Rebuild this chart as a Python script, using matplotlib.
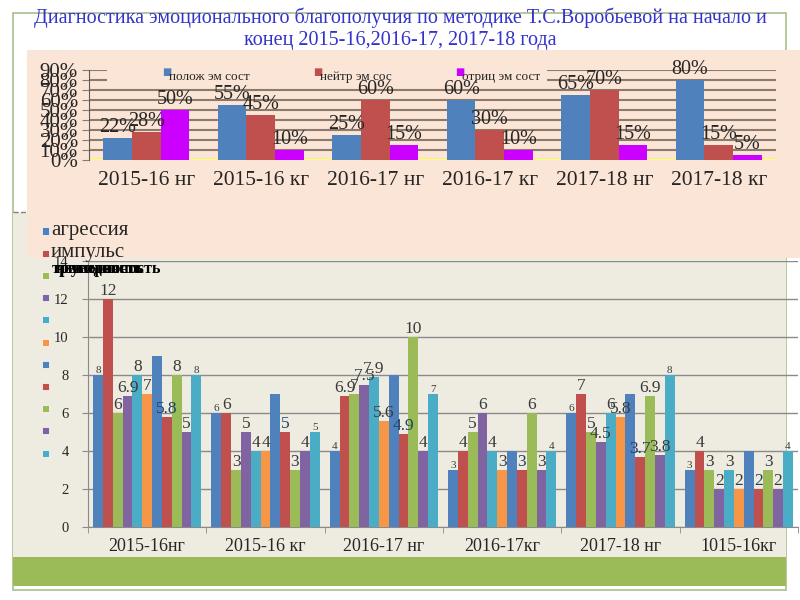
import numpy as np
import matplotlib.pyplot as plt
from matplotlib.patches import Rectangle

# ---- верхняя диаграмма (проценты) ----
top_groups = ['2015-16 нг', '2015-16 кг', '2016-17 нг', '2016-17 кг', '2017-18 нг', '2017-18 кг']
top_names = ['полож эм сост', 'нейтр эм сос', 'отриц эм сост']
polozh = [22, 55, 25, 60, 65, 80]
neitr = [28, 45, 60, 30, 70, 15]
otric = [50, 10, 15, 10, 15, 5]
top_yticks = [0, 10, 20, 30, 40, 50, 60, 70, 80, 90]

# ---- нижняя диаграмма (баллы) ----
bottom_groups = ['2015-16нг', '2015-16 кг', '2016-17 нг', '2016-17кг', '2017-18 нг', '1015-16кг']
agressiya = [8, 6, 4, 3, 6, 3]
impuls = [12, 6, 6.9, 4, 7, 4]
ryad3 = [6, 3, 7, 5, 5, 3]
ryad4 = [6.9, 5, 7.5, 6, 4.5, 2]
ryad5 = [8, 4, 7.9, 4, 6, 3]
ryad6 = [7, 4, 5.6, 3, 5.8, 2]
ryad7 = [9, 7, 8, 4, 7, 4]
ryad8 = [5.8, 5, 4.9, 3, 3.7, 2]
ryad9 = [8, 3, 10, 6, 6.9, 3]
ryad10 = [5, 4, 4, 3, 3.8, 2]
ryad11 = [8, 5, 7, 4, 8, 4]
bottom_names = ['агрессия', 'импульс']
# подписи легенды, наложенные друг на друга в оригинале
overlap_names = ['тревожность', 'неуверенность', 'ригидность']
bottom_yticks = [0, 2, 4, 6, 8, 10, 12, 14]

W, H = 800, 600
def fx(px):
    return px / W
def fy(py):
    return 1 - py / H

plt.rcParams['font.family'] = ['Liberation Serif', 'DejaVu Sans']

fig = plt.figure(figsize=(8, 6), dpi=100)
fig.patch.set_facecolor('white')

# фоновые панели слайда
fig.patches.append(Rectangle((fx(13), fy(590)), fx(773), 577 / H, transform=fig.transFigure,
                             facecolor='white', edgecolor='#A9BF8A', lw=1.2, zorder=0.1))
fig.patches.append(Rectangle((fx(13), fy(557)), fx(773), 344 / H, transform=fig.transFigure,
                             facecolor='#EEECE1', edgecolor='none', zorder=0.2))
fig.patches.append(Rectangle((fx(13), fy(586)), fx(773), 29 / H, transform=fig.transFigure,
                             facecolor='#9BBB59', edgecolor='none', zorder=0.3))
fig.patches.append(Rectangle((fx(27), fy(258)), fx(773), 208 / H, transform=fig.transFigure,
                             facecolor='#FBE5D6', edgecolor='none', zorder=0.4))
fig.lines.append(plt.Line2D([fx(13), fx(27)], [fy(212), fy(212)], transform=fig.transFigure,
                            color='#808080', lw=1, ls='--', zorder=0.5))

fig.text(0.5, fy(18), 'Диагностика эмоционального благополучия по методике Т.С.Воробьевой на начало и',
         ha='center', va='center', fontsize=14.5, color='#3333CC', family='Liberation Serif')
fig.text(0.5, fy(41), 'конец 2015-16,2016-17, 2017-18 года',
         ha='center', va='center', fontsize=14.5, color='#3333CC', family='Liberation Serif')

# ---- верхняя диаграмма ----
ax1 = fig.add_axes([fx(89), fy(160), fx(687), 90 / H])
ax1.set_zorder(2)
ax1.set_facecolor('none')
x = np.arange(len(top_groups))
bw = 0.25
top_colors = ['#4F81BD', '#C0504D', '#CC00FF']
for i, (vals, col) in enumerate(zip([polozh, neitr, otric], top_colors)):
    bars = ax1.bar(x + (i - 1) * bw, vals, bw, color=col, zorder=3)
    for b, v in zip(bars, vals):
        ax1.annotate(f'{v}%', (b.get_x() + b.get_width() / 2, v), xytext=(0, 1),
                     textcoords='offset points', ha='center', va='bottom',
                     fontsize=14.5, color='#262626', zorder=5, annotation_clip=False)
ax1.set_xlim(-0.5, len(top_groups) - 0.5)
ax1.set_ylim(0, 90)
ax1.set_yticks(top_yticks)
ax1.set_yticklabels([f'{t}%' for t in top_yticks], fontsize=15, color='#262626')
ax1.yaxis.grid(True, color='#8C7B6B', lw=1.5)
ax1.set_xticks(x)
ax1.set_xticklabels(top_groups, fontsize=15.5, color='#262626')
ax1.tick_params(axis='x', length=0, pad=8)
ax1.tick_params(axis='y', length=5, color='#8C7B6B', pad=3)
for s in ['top', 'right', 'bottom']:
    ax1.spines[s].set_visible(False)
ax1.spines['left'].set_color('#5A5A5A')
ax1.axhline(0, color='#FFFF66', lw=2.5, zorder=2)
# фон легенды закрывает верхние линии сетки
ax1.axhspan(74, 92, xmin=0.026, xmax=0.667, facecolor='#FBE5D6', edgecolor='none',
            zorder=2.5, clip_on=False)

# легенда верхней диаграммы
for name, col, px, py in zip(top_names, top_colors, [162, 313, 455], [72, 72, 72]):
    fig.text(fx(px), fy(py), '■', fontsize=7, color=col, ha='left', va='center',
             family='DejaVu Sans', zorder=6)
    fig.text(fx(px + 7), fy(py + 5), name, fontsize=9.5, color='#262626', ha='left',
             va='center', zorder=6)

# ---- нижняя диаграмма ----
ax2 = fig.add_axes([fx(88), fy(527), fx(710), 266 / H])
ax2.set_zorder(2)
ax2.set_facecolor('none')
series = [agressiya, impuls, ryad3, ryad4, ryad5, ryad6, ryad7, ryad8, ryad9, ryad10, ryad11]
colors = ['#4F81BD', '#C0504D', '#9BBB59', '#8064A2', '#4BACC6', '#F79646',
          '#4F81BD', '#C0504D', '#9BBB59', '#8064A2', '#4BACC6']
xb = np.arange(len(bottom_groups))
n = len(series)
w = 0.083
for i, (vals, col) in enumerate(zip(series, colors)):
    pos = xb + (i - (n - 1) / 2) * w
    bars = ax2.bar(pos, vals, w, color=col, zorder=3)
    if i == 6:
        continue
    fs = 8 if i in (0, 10) else 12.5
    tc = '#1F3E66' if i in (7,) else '#3A3A3A'
    for b, v in zip(bars, vals):
        ax2.annotate(f'{v:g}', (b.get_x() + b.get_width() / 2, v), xytext=(0, 0),
                     textcoords='offset points', ha='center', va='bottom',
                     fontsize=fs, color=tc, zorder=5, annotation_clip=False)
ax2.set_xlim(-0.5, len(bottom_groups) - 0.5)
ax2.set_ylim(0, 14)
ax2.set_yticks(bottom_yticks)
ax2.set_yticklabels([str(t) for t in bottom_yticks], fontsize=10.5, color='#262626')
ax2.yaxis.grid(True, color='#8A8A8A', lw=1)
ax2.set_xticks(xb)
ax2.set_xticklabels(bottom_groups, fontsize=13, color='#262626')
ax2.set_xticks(np.arange(-0.5, len(bottom_groups), 1), minor=True)
ax2.tick_params(axis='x', which='major', length=0, pad=8)
ax2.tick_params(axis='x', which='minor', length=4, color='#8A8A8A')
ax2.tick_params(axis='y', length=4, color='#8A8A8A', pad=10)
for s in ['top', 'right']:
    ax2.spines[s].set_visible(False)
ax2.spines['left'].set_color('#8A8A8A')
ax2.spines['bottom'].set_color('#8A8A8A')

# легенда нижней диаграммы
for i, col in enumerate(colors):
    py = 231 + 22.2 * i
    fig.patches.append(Rectangle((fx(42), fy(py + 3.5)), fx(7), 7 / H, transform=fig.transFigure,
                                 facecolor=col, edgecolor='white', lw=0.5, zorder=6))
    if i < len(bottom_names):
        fig.text(fx(51), fy(py - 1), bottom_names[i], fontsize=15, color='#262626',
                 ha='left', va='center', zorder=6)
for k, name in enumerate(overlap_names):
    fig.text(fx(52 + 4 * k), fy(269), name, fontsize=11.5, fontweight='bold', color='black',
             ha='left', va='center', zorder=6)

fig.savefig('out.png', dpi=100)
